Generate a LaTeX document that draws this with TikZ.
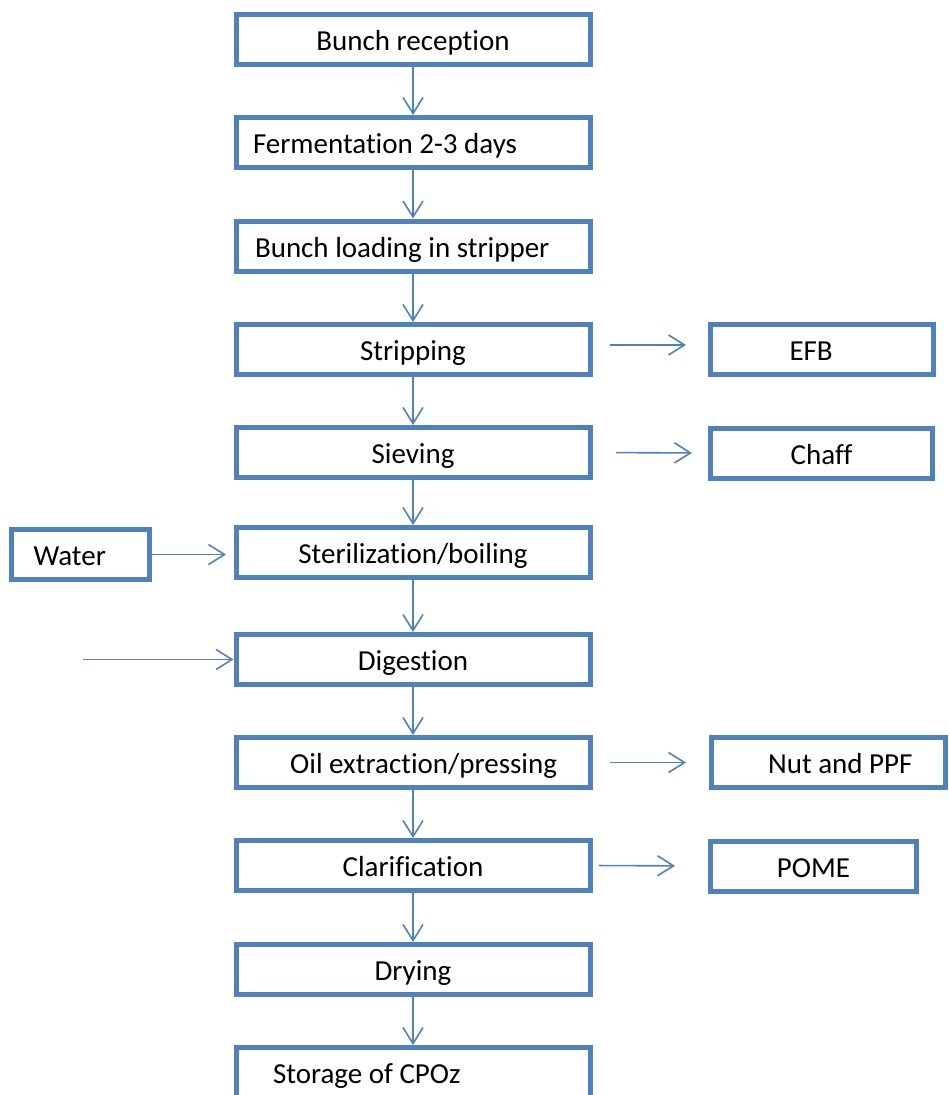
\documentclass[tikz,border=0pt]{standalone}
\usepackage{fontspec}
\setmainfont{Carlito}[Ligatures={NoCommon}]
\usetikzlibrary{arrows.meta}
\definecolor{boxblue}{RGB}{79,129,189}
\begin{document}
\begin{tikzpicture}[%
      x=1pt,y=-1pt,
      stepbox/.style={rectangle,draw=boxblue,line width=5pt,fill=white,inner sep=0pt,minimum width=354pt,minimum height=50pt,font=\fontsize{29}{35}\selectfont,text height=26pt,text depth=4pt},
      sidebox/.style={stepbox,minimum width=#1},
      padleft/.style 2 args={align=flush left,inner xsep=#1,text width=#2},
      padright/.style 2 args={align=flush right,inner xsep=#1,text width=#2},
      flow/.style={-{Straight Barb[length=16pt,width=20pt]},line width=1.6pt,draw=boxblue}
      ]
      \clip (0,0) rectangle (949,1095);
      \draw (413,39) node[stepbox] (recep) {Bunch reception};
      \draw (413,142.5) node[stepbox,padleft={17pt}{320pt}] (ferm) {Fermentation 2-3 days};
      \draw (413,246) node[stepbox,padleft={19pt}{316pt}] (load) {Bunch loading in stripper};
      \draw (413,349.5) node[stepbox] (strip) {Stripping};
      \draw (413,452.5) node[stepbox] (sieve) {Sieving};
      \draw (413,552.5) node[stepbox] (steril) {Sterilization/boiling};
      \draw (413,659.5) node[stepbox] (digest) {Digestion};
      \draw (413,762.5) node[stepbox,padright={33pt}{288pt}] (press) {Oil extraction/pressing};
      \draw (413,865.5) node[stepbox] (clarif) {Clarification};
      \draw (413,969.5) node[stepbox] (dry) {Drying};
      \draw (413,1072.5) node[stepbox,padleft={37pt}{280pt}] (store) {Storage of CPOz};
      \draw (822,349.5) node[sidebox=223pt,padleft={79pt}{65pt}] (efb) {EFB};
      \draw (821.5,453) node[sidebox=222pt] (chaff) {Chaff};
      \draw (828.5,762.5) node[sidebox=234pt,padright={33pt}{168pt}] (nut) {Nut and PPF};
      \draw (813.5,866) node[sidebox=206pt] (pome) {POME};
      \draw (80.5,554.5) node[sidebox=138pt,padleft={22pt}{94pt}] (water) {Water};
      \coordinate (feed) at (83,659.5);
      \foreach \a/\b in {recep/ferm,ferm/load,load/strip,strip/sieve,sieve/steril,steril/digest,digest/press,press/clarif,clarif/dry,dry/store}
        \draw[flow] (\a.south) -- (\b.north);
      \draw[flow,shorten <=17.5pt,shorten >=22pt] ([yshift=4.5pt]strip.east) -- ([yshift=4.5pt]efb.west);
      \draw[flow,shorten <=23.5pt,shorten >=16pt] (sieve.east) -- (chaff.west);
      \draw[flow,shorten <=17.5pt,shorten >=23pt] (press.east) -- (nut.west);
      \draw[flow,shorten <=6.5pt,shorten >=33pt] (clarif.east) -- (pome.west);
      \draw[flow,shorten >=7.5pt] (water.east) -- (water.east -| steril.west);
      \draw[flow] (feed) -- (digest.west);
    \end{tikzpicture}
\end{document}
